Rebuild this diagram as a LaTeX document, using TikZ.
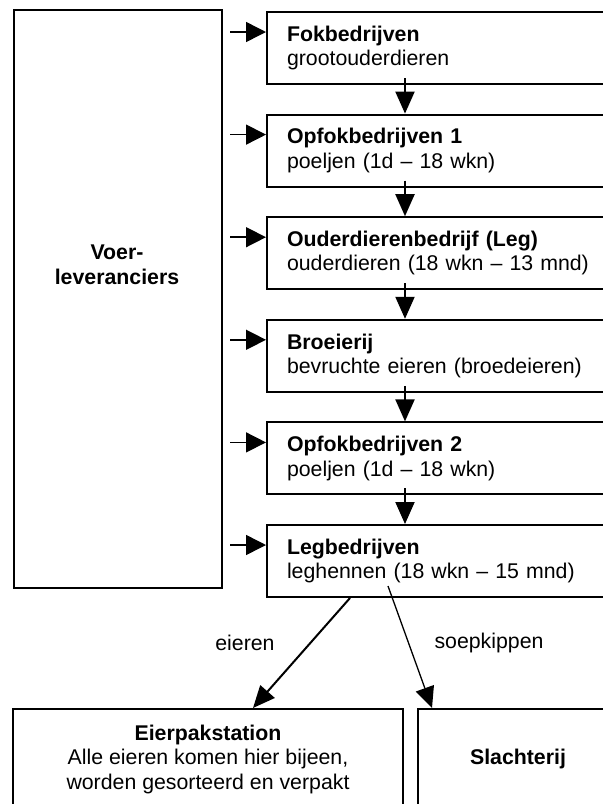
\documentclass[tikz,border=0pt]{standalone}
\usepackage{fontspec}
\setmainfont{Liberation Sans}
\usetikzlibrary{arrows.meta}
\tikzset{
  stage/.style={draw, line width=2pt, rectangle, anchor=north west,
    text width=340pt, inner xsep=20pt, inner ysep=0pt,
    minimum height=72pt, align=left},
  sidebox/.style={draw, line width=1.6pt, rectangle, anchor=north west, inner sep=0pt},
  endbox/.style={draw, line width=2pt, rectangle, anchor=north west, inner sep=0pt,
    minimum height=100pt, align=center},
  feed/.style={line width=1.5pt, -{Triangle[length=20pt,width=20pt]}},
  flow/.style={line width=2pt, -{Triangle[length=22pt,width=19pt]}},
  split/.style={-{Triangle[length=21pt,width=19pt]}},
  every node/.style={font=\fontsize{21.3}{24.5}\selectfont}
}
\begin{document}
\begin{tikzpicture}[x=1pt,y=-1pt]
\useasboundingbox (0,0) rectangle (603,804);
\clip (0,0) rectangle (603,804);
\fill[white] (0,0) rectangle (603,804);

% feed suppliers
\node[sidebox, minimum width=208pt, minimum height=578pt] (voer) at (13,9) {};
\node[align=center, inner sep=0pt] (voertxt) at (117,265) {\textbf{Voer-}\\\textbf{leveranciers}};

% production chain
\node[stage] (b1) at (266,11)    {\textbf{Fokbedrijven}\\grootouderdieren};
\node[stage] (b2) at (266,113.6) {\textbf{Opfokbedrijven 1}\\poeljen (1d -- 18 wkn)};
\node[stage] (b3) at (266,216.2) {\textbf{Ouderdierenbedrijf (Leg)}\\ouderdieren (18 wkn -- 13 mnd)};
\node[stage] (b4) at (266,318.8) {\textbf{Broeierij}\\bevruchte eieren (broedeieren)};
\node[stage] (b5) at (266,421.4) {\textbf{Opfokbedrijven 2}\\poeljen (1d -- 18 wkn)};
\node[stage] (b6) at (266,524)   {\textbf{Legbedrijven}\\leghennen (18 wkn -- 15 mnd)};

% end points
\node[endbox, minimum width=390pt] (eier) at (12,708)
  {\textbf{Eierpakstation}\\Alle eieren komen hier bijeen,\\worden gesorteerd en verpakt};
\node[endbox, minimum width=200pt] (slacht) at (417,708) {\textbf{Slachterij}};

% feed arrows into each stage
\foreach \b in {b1,b2,b3,b4,b5,b6}
  \draw[feed] ([xshift=-36pt,yshift=-21pt]\b.north west) -- ([yshift=-21pt]\b.north west);

% arrows down the chain
\foreach \a/\b in {b1/b2,b2/b3,b3/b4,b4/b5,b5/b6}
  \draw[flow] ([xshift=139pt,yshift=7pt]\a.south west) -- ([xshift=139pt]\b.north west);

% products of the laying farms
\draw[flow] ([xshift=84pt]b6.south west) -- ([xshift=241pt]eier.north west);
\draw[split, line width=1.3pt] ([xshift=122pt,yshift=12pt]b6.south west) -- ([xshift=15pt]slacht.north west);
\node (leieren) at (245,643) {eieren};
\node (lsoep) at (489,643) {soepkippen};
\end{tikzpicture}
\end{document}
